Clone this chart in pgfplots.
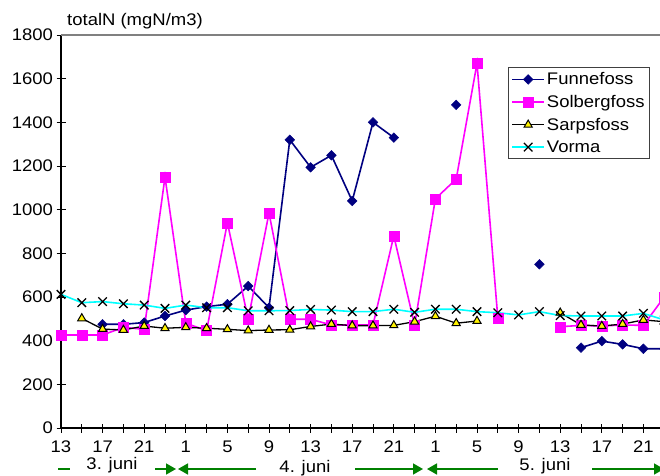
\documentclass[border=0pt]{standalone}
\usepackage{fontspec}
\setmainfont{Liberation Sans}[FakeStretch=1.1]
\usepackage{pgfplots}
\pgfplotsset{compat=1.18}
\usetikzlibrary{arrows.meta}
\definecolor{navyc}{RGB}{0,0,128}
\definecolor{magc}{RGB}{255,0,255}
\definecolor{cyc}{RGB}{0,255,255}
\definecolor{grnc}{RGB}{0,128,0}
\begin{document}
\begin{tikzpicture}
\path[use as bounding box] (0,0) rectangle (660pt,475pt);
\clip (0,0) rectangle (660pt,475pt);
\begin{axis}[
  at={(61pt,47pt)}, anchor=south west,
  scale only axis, width=624pt, height=393pt,
  xmin=0, xmax=60, ymin=0, ymax=1800,
  axis x line*=bottom, axis y line*=left,
  x axis line style={line width=1.3pt},
  y axis line style={line width=2pt},
  font=\fontsize{16.8}{19}\selectfont,
  /pgf/number format/assume math mode=true,
  ytick={0,200,...,1800},
  xtick={0,4,...,56},
  xticklabels={13,17,21,1,5,9,13,17,21,1,5,9,13,17,21},
  xticklabel style={yshift=-5pt},
  minor xtick={2,6,...,58},
  tick align=center,
  major tick length=9pt, minor tick length=9pt,
  tick style={black, line width=0.9pt},
  scaled y ticks=false,
  yticklabel style={/pgf/number format/1000 sep={}},
  unbounded coords=jump,
  clip=true,
  legend style={at={(0.7163,0.918)}, anchor=north west, draw=black!75, line width=0.8pt,
    fill=white, font=\fontsize{16.8}{19}\selectfont, row sep=5pt, inner xsep=3pt, inner ysep=3pt},
  legend cell align=left,
  legend image code/.code={\draw[mark repeat=2,mark phase=2] plot coordinates {(0pt,0pt) (16pt,0pt) (32pt,0pt)};},
]
\addplot[color=navyc, line width=1.6pt, mark=square*, mark size=3.4pt, mark options={rotate=45, fill=navyc, draw=navyc, line width=0.5pt}] coordinates {
(0,nan) (2,nan) (4,475) (6,475) (8,483) (10,513) (12,540) (14,556) (16,567) (18,650) (20,551) (22,1320) (24,1194) (26,1249) (28,1040) (30,1400) (32,1330) (34,nan) (36,nan) (38,1480) (40,nan) (42,nan) (44,nan) (46,750) (48,nan) (50,368) (52,398) (54,383) (56,363) (58,363)
};
\addlegendentry{Funnefoss}
\addplot[color=magc, line width=1.6pt, mark=square*, mark size=5pt, mark options={fill=magc, draw=magc, line width=0.3pt}] coordinates {
(0,426) (2,426) (4,426) (6,461) (8,452) (10,1150) (12,480) (14,446) (16,940) (18,498) (20,985) (22,498) (24,498) (26,472) (28,472) (30,472) (32,880) (34,472) (36,1050) (38,1140) (40,1670) (42,505) (44,nan) (46,nan) (48,464) (50,470) (52,467) (54,472) (56,470) (58,600)
};
\addlegendentry{Solbergfoss}
\addplot[color=black, line width=1.3pt, mark=triangle*, mark size=4.7pt, mark options={fill=yellow, draw=black, line width=1pt}] coordinates {
(0,nan) (2,502) (4,453) (6,449) (8,467) (10,457) (12,461) (14,457) (16,452) (18,446) (20,449) (22,450) (24,465) (26,476) (28,469) (30,469) (32,470) (34,487) (36,512) (38,480) (40,490) (42,nan) (44,nan) (46,nan) (48,528) (50,472) (52,467) (54,476) (56,495) (58,487)
};
\addlegendentry{Sarpsfoss}
\addplot[color=cyc, line width=1.6pt, mark=x, mark size=6pt, mark options={draw=black, line width=1.3pt}] coordinates {
(0,612) (2,574) (4,579) (6,569) (8,563) (10,548) (12,563) (14,551) (16,551) (18,537) (20,537) (22,538) (24,543) (26,540) (28,533) (30,533) (32,544) (34,530) (36,544) (38,544) (40,533) (42,528) (44,518) (46,533) (48,515) (50,513) (52,513) (54,513) (56,525) (58,495)
};
\addlegendentry{Vorma}
\end{axis}
\draw[black!50, line width=2.6pt] (61pt,440pt) -- (660pt,440pt);
\node[anchor=west, font=\fontsize{16.8}{19}\selectfont, inner sep=0pt] at (67pt,454pt) {totalN (mgN/m3)};
\begin{scope}[font=\fontsize{16.8}{19}\selectfont]
\node[inner sep=0pt] at (112pt,10pt) {3. juni};
\node[inner sep=0pt] at (305pt,7pt) {4. juni};
\node[inner sep=0pt] at (545pt,9pt) {5. juni};
\end{scope}
\begin{scope}[grnc, line width=1.6pt, >={Triangle[length=10pt,width=11pt]}]
\draw (58pt,6pt) -- (70pt,6pt);
\draw[->] (155pt,6pt) -- (176pt,6pt);
\draw[->] (256pt,6pt) -- (178pt,6pt);
\draw[->] (355pt,6pt) -- (423pt,6pt);
\draw[->] (498pt,6pt) -- (427pt,6pt);
\draw[->] (592pt,6pt) -- (664pt,6pt);
\end{scope}
\end{tikzpicture}
\end{document}
